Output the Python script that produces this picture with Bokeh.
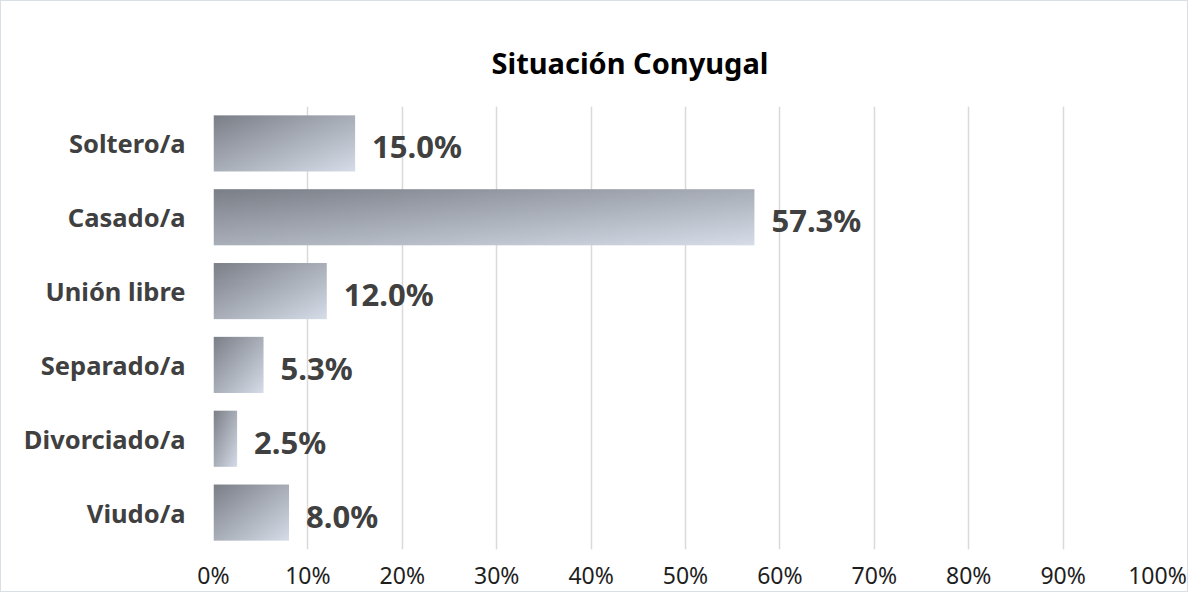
import numpy as np
from bokeh.plotting import figure
from bokeh.models import FixedTicker, PrintfTickFormatter, ColumnDataSource
from bokeh.embed import file_html
from bokeh.resources import INLINE
from bokeh.core.properties import value

# ---- data ----
categories = ["Soltero/a", "Casado/a", "Unión libre", "Separado/a", "Divorciado/a", "Viudo/a"]
percentages = [15.0, 57.3, 12.0, 5.3, 2.5, 8.0]
x_ticks = [0, 10, 20, 30, 40, 50, 60, 70, 80, 90, 100]
title_text = "Situación Conyugal"

FONT = "Noto Sans"
n = len(categories)
positions = [n - 1 - i for i in range(n)]
bar_h = 0.76

p = figure(width=1188, height=592, output_backend="svg", toolbar_location=None,
           x_range=(0, 100), y_range=(-0.5, n - 0.5),
           min_border_left=212, min_border_right=32, min_border_top=105, min_border_bottom=20,
           styles={"border": "1px solid #d9dee7"})
p.outline_line_color = None
p.background_fill_color = "white"
p.border_fill_color = "white"

# gradient images for bars (top-left dark -> bottom-right light)
c0 = np.array([0x7b, 0x7f, 0x88], dtype=float)
c1 = np.array([0xd6, 0xdd, 0xe8], dtype=float)
rows, cols = 64, 160
u = np.linspace(0, 1, cols)[None, :]
v = 1 - np.linspace(0, 1, rows)[:, None]  # row 0 at bottom
t = (u + v) / 2
img = np.empty((rows, cols), dtype=np.uint32)
view = img.view(dtype=np.uint8).reshape((rows, cols, 4))
for k in range(3):
    view[:, :, k] = np.round(c0[k] + (c1[k] - c0[k]) * t).astype(np.uint8)
view[:, :, 3] = 255

p.image_rgba(image=[img] * n, x=[0] * n, y=[pos - bar_h / 2 for pos in positions],
             dw=percentages, dh=[bar_h] * n)

# value labels
src = ColumnDataSource(dict(x=percentages, y=positions,
                            txt=[f"{v_:.1f}%" for v_ in percentages]))
p.text(x="x", y="y", text="txt", source=src, x_offset=17, y_offset=3,
       text_font=value(FONT), text_font_style="bold", text_font_size="31px",
       text_color="#404040", text_baseline="middle", text_align="left")

# axes
p.xaxis.ticker = FixedTicker(ticks=x_ticks)
p.xaxis.formatter = PrintfTickFormatter(format="%d%%")
p.xaxis.axis_line_color = None
p.xaxis.major_tick_line_color = None
p.xaxis.minor_tick_line_color = None
p.xaxis.major_tick_out = 0
p.xaxis.major_label_text_font = FONT
p.xaxis.major_label_text_font_size = "23px"
p.xaxis.major_label_text_color = "#1e1e1e"
p.xaxis.major_label_standoff = 9

p.yaxis.ticker = FixedTicker(ticks=positions)
p.yaxis.major_label_overrides = {pos: cat for pos, cat in zip(positions, categories)}
p.yaxis.axis_line_color = None
p.yaxis.major_tick_line_color = None
p.yaxis.minor_tick_line_color = None
p.yaxis.major_tick_out = 0
p.yaxis.major_label_text_font = FONT
p.yaxis.major_label_text_font_style = "bold"
p.yaxis.major_label_text_font_size = "25.5px"
p.yaxis.major_label_text_color = "#404040"
p.yaxis.major_label_standoff = 28

p.xgrid.grid_line_color = "#d9d9d9"
p.xgrid.grid_line_width = 1.5
p.ygrid.grid_line_color = None

p.title.text = title_text
p.title.text_font = FONT
p.title.text_font_style = "bold"
p.title.text_font_size = "29px"
p.title.text_color = "#000000"
p.title.align = "left"
p.title.offset = 278
p.title.standoff = 50

open("out.html", "w").write(file_html(p, INLINE))
